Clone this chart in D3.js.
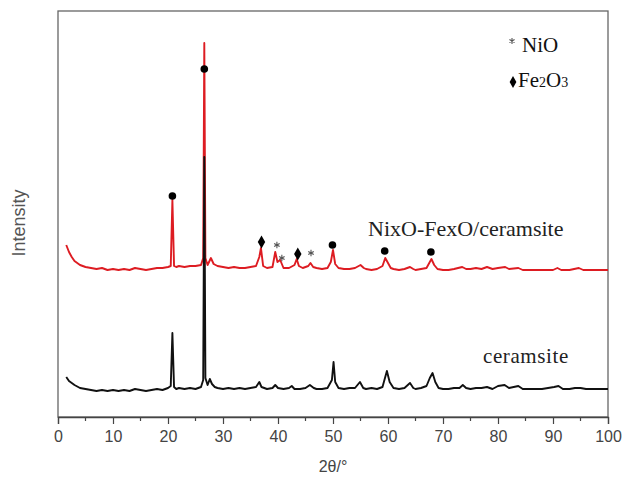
<!DOCTYPE html>
<html>
<head>
<meta charset="utf-8">
<script src="https://cdn.jsdelivr.net/npm/d3@7"></script>
<style>
  body { margin: 0; background: #fff; }
  svg { display: block; }
</style>
</head>
<body>
<svg width="632" height="481"></svg>
<script>
/* global d3 */

// XRD patterns: [2theta, intensity (a.u.)]
const ceramsite = [
  [1.5, 400], [2, 360], [3, 320], [4, 290], [5, 280], [6, 270], [7, 260], [8, 270],
  [9, 260], [10, 270], [11, 260], [12, 270], [13, 260], [14, 280], [15, 270], [16, 260],
  [17, 270], [18, 280], [19, 270], [20, 290], [20.5, 310], [20.8, 840], [21.1, 300],
  [21.5, 280], [22, 290], [23, 280], [24, 290], [25, 280], [26, 300], [26.4, 370],
  [26.6, 2600], [26.8, 390], [27.2, 320], [27.6, 380], [28, 330], [28.5, 300], [29, 290],
  [30, 280], [31, 290], [32, 280], [33, 290], [34, 280], [35, 290], [36, 300], [36.6, 350],
  [37, 300], [38, 280], [39, 290], [39.5, 320], [40, 290], [41, 280], [42, 290], [42.5, 310],
  [43, 280], [44, 280], [45, 290], [45.8, 320], [46.5, 290], [47, 280], [48, 280], [49, 290],
  [49.8, 370], [50.1, 550], [50.4, 350], [51, 290], [52, 280], [53, 290], [54, 290],
  [54.9, 350], [55.5, 290], [56, 280], [57, 290], [58, 280], [59, 300], [59.8, 460],
  [60.3, 350], [61, 290], [62, 280], [63, 290], [64, 340], [64.6, 290], [65, 280], [66, 290],
  [67, 310], [67.6, 390], [68.1, 440], [68.6, 350], [69.2, 290], [70, 280], [71, 280],
  [72, 290], [73, 290], [73.6, 320], [74.2, 290], [75, 280], [76, 290], [77, 290], [78, 300],
  [79, 280], [80, 310], [81.2, 320], [82, 290], [83.7, 310], [84.5, 280], [86, 280],
  [88, 280], [90.2, 300], [91, 310], [91.8, 280], [93, 280], [94, 290], [95, 290], [96, 280],
  [98, 280], [100, 280],
];

const nixoFexo = [
  [1.5, 1720], [2, 1650], [2.5, 1600], [3, 1560], [4, 1520], [5, 1500], [6, 1490], [7, 1480],
  [8, 1490], [9, 1470], [10, 1480], [11, 1470], [12, 1480], [13, 1470], [14, 1490], [15, 1480],
  [16, 1470], [17, 1480], [18, 1490], [19, 1490], [20, 1500], [20.5, 1510], [20.8, 2170],
  [21.1, 1510], [21.5, 1500], [22, 1510], [23, 1500], [24, 1510], [25, 1510], [26, 1520],
  [26.4, 1590], [26.6, 3740], [26.8, 1590], [27.2, 1520], [27.8, 1590], [28.3, 1530],
  [29, 1510], [30, 1500], [31, 1490], [32, 1500], [33, 1490], [34, 1490], [35, 1500],
  [36, 1510], [36.6, 1600], [36.9, 1690], [37.3, 1510], [38, 1490], [39, 1500], [39.5, 1650],
  [39.9, 1550], [40.4, 1570], [41, 1490], [42, 1490], [43, 1520], [43.4, 1580], [43.8, 1510],
  [44.5, 1490], [45.5, 1510], [45.9, 1540], [46.4, 1500], [47, 1490], [48, 1480], [49, 1490],
  [49.6, 1550], [50, 1670], [50.4, 1530], [51, 1490], [52, 1480], [53, 1480], [54, 1490],
  [55, 1520], [55.6, 1490], [56, 1480], [57, 1470], [58, 1480], [59, 1510], [59.5, 1590],
  [60, 1540], [60.5, 1490], [61, 1480], [62, 1470], [63, 1480], [64, 1500], [64.6, 1480],
  [65, 1470], [66, 1480], [67, 1490], [67.5, 1540], [67.9, 1580], [68.4, 1520], [69, 1480],
  [70, 1470], [71, 1470], [72, 1480], [73.5, 1500], [74.2, 1480], [75, 1480], [76, 1490],
  [77, 1480], [78, 1500], [79, 1480], [80, 1490], [81.3, 1500], [82, 1480], [83.7, 1490],
  [84.5, 1470], [86, 1470], [88, 1470], [90, 1470], [90.8, 1490], [91.5, 1470], [93, 1470],
  [94.7, 1490], [95.5, 1470], [97, 1470], [100, 1470],
];

// peak markers on the NixO-FexO/ceramsite pattern
const dotMarks = [[20.8, 2210], [26.6, 3480], [49.9, 1720], [59.4, 1660], [67.8, 1650]];
const fe2o3Marks = [[37.0, 1750], [43.6, 1630]];
const nioMarks = [[39.8, 1720], [40.7, 1590], [46.0, 1640]];

const xTicks = [0, 10, 20, 30, 40, 50, 60, 70, 80, 90, 100];
const xMinorTicks = [5, 15, 25, 35, 45, 55, 65, 75, 85, 95];

const svg = d3.select('svg');
const margin = {
  top: 11, right: 24, bottom: 64, left: 58,
};
const width = +svg.attr('width');
const height = +svg.attr('height');
const innerWidth = width - margin.left - margin.right;
const innerHeight = height - margin.top - margin.bottom;

const xScale = d3.scaleLinear().domain([0, 100]).range([0, innerWidth]);
const yScale = d3.scaleLinear().domain([0, 4060]).range([innerHeight, 0]);

const g = svg.append('g')
  .attr('transform', `translate(${margin.left},${margin.top})`);

// frame
g.append('rect')
  .attr('width', innerWidth)
  .attr('height', innerHeight)
  .attr('fill', 'none')
  .attr('stroke', '#666')
  .attr('stroke-width', 1.3);

// x axis
const xAxis = g.append('g')
  .attr('transform', `translate(0,${innerHeight})`)
  .call(d3.axisBottom(xScale).tickValues(xTicks).tickSize(7).tickPadding(7));
xAxis.select('.domain').attr('stroke', '#444').attr('stroke-width', 1.3);
xAxis.selectAll('.tick line').attr('stroke', '#444').attr('stroke-width', 1.2);
xAxis.selectAll('.tick text')
  .attr('fill', '#444')
  .attr('font-family', 'Liberation Sans Narrow, Arial Narrow, Liberation Sans, sans-serif')
  .attr('font-size', '16px');

g.append('g')
  .attr('transform', `translate(0,${innerHeight})`)
  .selectAll('line')
  .data(xMinorTicks)
  .join('line')
  .attr('x1', (d) => xScale(d))
  .attr('x2', (d) => xScale(d))
  .attr('y1', 0)
  .attr('y2', 4)
  .attr('stroke', '#444')
  .attr('stroke-width', 1.2);

// axis titles
g.append('text')
  .attr('x', innerWidth / 2)
  .attr('y', innerHeight + 55)
  .attr('text-anchor', 'middle')
  .attr('fill', '#444')
  .attr('font-family', 'Liberation Sans, Arial, sans-serif')
  .attr('font-size', '16px')
  .text('2θ/°');

g.append('text')
  .attr('transform', 'rotate(-90)')
  .attr('x', -212)
  .attr('y', -33)
  .attr('text-anchor', 'middle')
  .attr('fill', '#555')
  .attr('font-family', 'Liberation Sans, Arial, sans-serif')
  .attr('font-size', '18px')
  .text('Intensity');

// patterns
const line = d3.line()
  .x((d) => xScale(d[0]))
  .y((d) => yScale(d[1]));

g.append('path')
  .datum(nixoFexo)
  .attr('fill', 'none')
  .attr('stroke', '#dd1c22')
  .attr('stroke-width', 1.9)
  .attr('stroke-linejoin', 'round')
  .attr('d', line);

g.append('path')
  .datum(ceramsite)
  .attr('fill', 'none')
  .attr('stroke', '#111')
  .attr('stroke-width', 1.9)
  .attr('stroke-linejoin', 'round')
  .attr('d', line);

// markers
g.selectAll('.dot')
  .data(dotMarks)
  .join('circle')
  .attr('class', 'dot')
  .attr('cx', (d) => xScale(d[0]))
  .attr('cy', (d) => yScale(d[1]))
  .attr('r', 3.8)
  .attr('fill', '#000');

g.selectAll('.fe')
  .data(fe2o3Marks)
  .join('path')
  .attr('class', 'fe')
  .attr('transform', (d) => `translate(${xScale(d[0])},${yScale(d[1])})`)
  .attr('d', d3.symbol(d3.symbolDiamond, 48))
  .attr('fill', '#000');

g.selectAll('.nio')
  .data(nioMarks)
  .join('path')
  .attr('class', 'nio')
  .attr('transform', (d) => `translate(${xScale(d[0])},${yScale(d[1])})`)
  .attr('d', d3.symbol(d3.symbolAsterisk, 28))
  .attr('fill', 'none')
  .attr('stroke', '#555')
  .attr('stroke-width', 1.1);

// curve labels
const serif = 'Liberation Serif, Times New Roman, serif';
g.append('text')
  .attr('x', 310)
  .attr('y', 225)
  .attr('fill', '#222')
  .attr('font-family', serif)
  .attr('font-size', '22px')
  .text('NixO-FexO/ceramsite');

g.append('text')
  .attr('x', 425)
  .attr('y', 352)
  .attr('fill', '#222')
  .attr('font-family', serif)
  .attr('font-size', '21px')
  .attr('letter-spacing', '0.6px')
  .text('ceramsite');

// legend
const legend = g.append('g').attr('transform', 'translate(454,0)');
legend.append('path')
  .attr('transform', 'translate(0,30)')
  .attr('d', d3.symbol(d3.symbolAsterisk, 24))
  .attr('fill', 'none')
  .attr('stroke', '#555')
  .attr('stroke-width', 1.1);
legend.append('text')
  .attr('x', 10)
  .attr('y', 41)
  .attr('fill', '#111')
  .attr('font-family', serif)
  .attr('font-size', '21px')
  .text('NiO');

legend.append('path')
  .attr('transform', 'translate(1,71)')
  .attr('d', d3.symbol(d3.symbolDiamond, 40))
  .attr('fill', '#000');
const fe = legend.append('text')
  .attr('x', 6)
  .attr('y', 76)
  .attr('fill', '#111')
  .attr('font-family', serif)
  .attr('font-size', '21px');
fe.append('tspan').text('Fe');
fe.append('tspan').attr('font-size', '14px').text('2');
fe.append('tspan').text('O');
fe.append('tspan').attr('font-size', '14px').text('3');
</script>
</body>
</html>
